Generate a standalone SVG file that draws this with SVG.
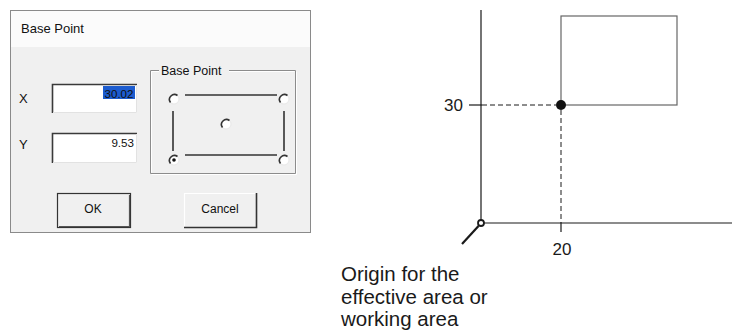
<svg xmlns="http://www.w3.org/2000/svg" width="732" height="332" viewBox="0 0 732 332">
<style>
.ui{font-family:"Liberation Sans",Arial,sans-serif;fill:#111}
.lbl{font-family:"Liberation Sans",Arial,sans-serif;fill:#1a1a1a}
.ax{stroke:#1a1a1a;stroke-width:1.2;fill:none}
.dash{stroke:#1a1a1a;stroke-width:1;stroke-dasharray:5,3;fill:none}
.rl{stroke:#333;stroke-width:1.6;fill:none}
.radio{fill:#fff;stroke:#e8e8e8;stroke-width:1}
.rarc{fill:none;stroke:#333;stroke-width:1.6}
</style>
<defs>
<g id="rb">
<circle r="5" class="radio"/>
<path d="M3.5,-3.5 A5,5 0 0 0 -3.5,3.5" class="rarc"/>
</g>
</defs>
<rect width="732" height="332" fill="#fff"/>

<g id="dialog">
<rect x="10.5" y="10.5" width="300" height="222" fill="#f0f0f0" stroke="#8a8a8a"/>
<rect x="11" y="11" width="299" height="36" fill="#fbfbfb"/>
<text x="21" y="33" class="ui" font-size="13">Base Point</text>
</g>

<g id="x-field">
<text x="19" y="103" class="ui" font-size="13" fill="#333">X</text>
<rect x="52" y="84" width="85" height="29" fill="#fff"/>
<path d="M52.5,113 V84.5 H137" stroke="#3a3a3a" stroke-width="1.6" fill="none"/>
<path d="M53,112.5 H136.5 V85" stroke="#e2e2e2" stroke-width="1" fill="none"/>
<rect x="103" y="86" width="32" height="13" fill="#1c5ccf"/>
<text x="133.5" y="97.5" class="ui" font-size="11.6" text-anchor="end" fill="#fff">30.02</text>
</g>

<g id="y-field">
<text x="19" y="149" class="ui" font-size="13" fill="#333">Y</text>
<rect x="52" y="133" width="85" height="30" fill="#fff"/>
<path d="M52.5,163 V133.5 H137" stroke="#3a3a3a" stroke-width="1.6" fill="none"/>
<path d="M53,162.5 H136.5 V134" stroke="#e2e2e2" stroke-width="1" fill="none"/>
<text x="134" y="147" class="ui" font-size="11.6" text-anchor="end">9.53</text>
</g>

<g id="basepoint-group">
<path d="M159,70.5 H150.5 V173.5 H295.5 V70.5 H229" stroke="#8c8c8c" stroke-width="1" fill="none"/>
<path d="M159,71.5 H151.5 V172.5 M151.5,174.5 H296.5 V71.5 M229,71.5 H294.5" stroke="#ffffff" stroke-width="1" fill="none"/>
<text x="161" y="75" class="ui" font-size="12.5">Base Point</text>
<path d="M185,95 H277 M185,155 H277 M173,111 V151 M284,111 V151" class="rl"/>
<use href="#rb" x="174" y="99"/>
<use href="#rb" x="284" y="99"/>
<use href="#rb" x="226" y="124"/>
<use href="#rb" x="174" y="160"/>
<use href="#rb" x="284" y="160"/>
<circle cx="174" cy="160" r="1.8" fill="#111"/>
</g>

<g id="ok-button">
<rect x="57" y="193" width="74" height="35" fill="#f0f0f0"/>
<rect x="57.5" y="193.5" width="73" height="34" fill="none" stroke="#333" stroke-width="1.2"/>
<path d="M59,226.5 H129.5 V195" stroke="#555" stroke-width="1.2" fill="none"/>
<text x="93" y="213" class="ui" font-size="12" text-anchor="middle">OK</text>
</g>

<g id="cancel-button">
<rect x="184" y="193" width="73" height="35" fill="#f0f0f0"/>
<path d="M184.5,228 V193.5 H257" stroke="#ffffff" stroke-width="1.2" fill="none"/>
<path d="M184,227.5 H256.5 V193" stroke="#333" stroke-width="1.6" fill="none"/>
<text x="220" y="213" class="ui" font-size="12" text-anchor="middle">Cancel</text>
</g>

<g id="connectors">
<path d="M481,10 V223 H732" class="ax"/>
<path d="M469,105 H482" class="ax"/>
<path d="M482,105 H556" class="dash"/>
<path d="M561,110 V222" class="dash"/>
<path d="M561,222 V232" class="ax"/>
<path d="M462,244 L478.5,226" stroke="#1a1a1a" stroke-width="2.2" fill="none"/>
</g>

<g id="workpiece">
<rect x="561" y="16" width="116" height="89" fill="none" stroke="#666" stroke-width="1.2"/>
<circle cx="561" cy="105" r="5" fill="#111"/>
</g>

<g id="origin">
<circle cx="481" cy="223" r="3" fill="#fff" stroke="#1a1a1a" stroke-width="1.8"/>
</g>

<g id="labels">
<text x="463" y="111" class="lbl" font-size="17" text-anchor="end">30</text>
<text x="562" y="255" class="lbl" font-size="17" text-anchor="middle">20</text>
<text x="341" y="281" class="lbl" font-size="20.5">Origin for the</text>
<text x="341" y="304" class="lbl" font-size="20.5">effective area or</text>
<text x="341" y="326" class="lbl" font-size="20.5">working area</text>
</g>
</svg>
